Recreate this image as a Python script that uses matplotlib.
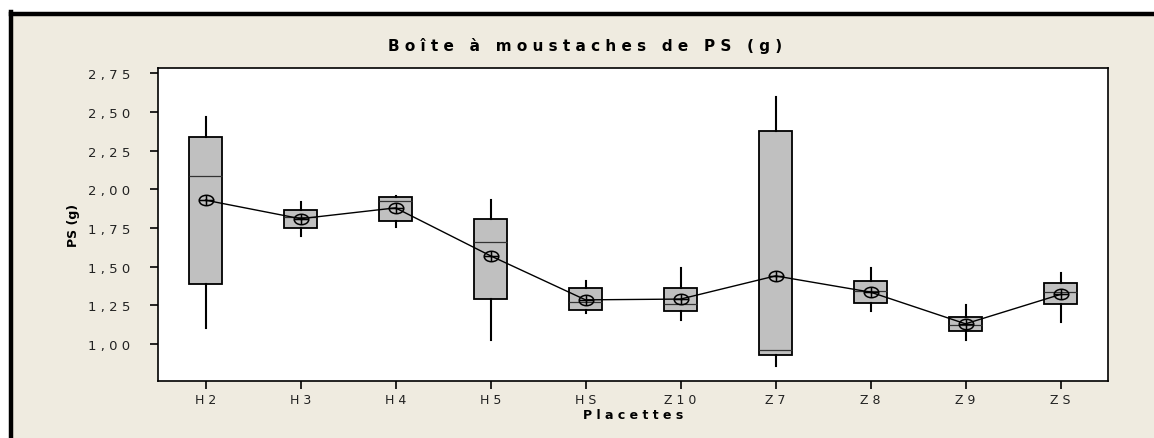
import matplotlib
matplotlib.use("Agg")
import matplotlib.pyplot as plt
from matplotlib.path import Path
from matplotlib.patches import Rectangle
from matplotlib.lines import Line2D
import numpy as np

plt.rcParams['font.family'] = ['DejaVu Sans']

# données
placettes = ['H 2', 'H 3', 'H 4', 'H 5', 'H S', 'Z 1 0', 'Z 7', 'Z 8', 'Z 9', 'Z S']
whis_haut = [2.47, 1.92, 1.955, 1.93, 1.41, 1.49, 2.595, 1.49, 1.25, 1.46]
q3 = [2.34, 1.865, 1.95, 1.81, 1.36, 1.36, 2.375, 1.41, 1.175, 1.395]
mediane = [2.085, 1.82, 1.925, 1.66, 1.27, 1.26, 0.96, 1.34, 1.125, 1.335]
moyenne = [1.93, 1.81, 1.88, 1.57, 1.285, 1.29, 1.44, 1.335, 1.13, 1.32]
q1 = [1.39, 1.75, 1.795, 1.29, 1.22, 1.215, 0.93, 1.265, 1.085, 1.26]
whis_bas = [1.10, 1.70, 1.755, 1.025, 1.20, 1.155, 0.86, 1.21, 1.025, 1.14]

yticks = [1.00, 1.25, 1.50, 1.75, 2.00, 2.25, 2.50, 2.75]
ytick_labels = ['1 , 0 0', '1 , 2 5', '1 , 5 0', '1 , 7 5', '2 , 0 0', '2 , 2 5', '2 , 5 0', '2 , 7 5']

fig = plt.figure(figsize=(11.54, 4.39), dpi=100, facecolor='white')

# cadre beige avec bord noir en haut et à gauche
fig.patches.append(Rectangle((13 / 1154, 0), 1, 1 - 17 / 439, transform=fig.transFigure,
                             facecolor='#EFEBE0', edgecolor='none', zorder=-10))
fig.lines.append(Line2D([11 / 1154, 1], [1 - 15 / 439, 1 - 15 / 439], transform=fig.transFigure,
                        color='black', linewidth=3.2, zorder=-5))
fig.lines.append(Line2D([11 / 1154, 11 / 1154], [0, 1 - 13 / 439], transform=fig.transFigure,
                        color='black', linewidth=3.2, zorder=-5))

ax = fig.add_axes([158 / 1154, 1 - 382 / 439, 950 / 1154, 313 / 439])
ax.set_facecolor('white')

x = np.arange(len(placettes))
stats = []
for i in range(len(placettes)):
    stats.append({'med': mediane[i], 'q1': q1[i], 'q3': q3[i],
                  'whislo': whis_bas[i], 'whishi': whis_haut[i], 'fliers': []})

ax.bxp(stats, positions=x, widths=0.35, patch_artist=True, showcaps=False,
       boxprops=dict(facecolor='#C0C0C0', edgecolor='black', linewidth=1.3),
       medianprops=dict(color='#333333', linewidth=0.9),
       whiskerprops=dict(color='black', linewidth=1.5))

# marqueur de moyenne : ellipse avec croix
ell = Path.unit_circle()
ell = Path(ell.vertices * [1.4, 1.0], ell.codes)
marq = Path.make_compound_path(ell, Path([[-1.4, 0], [1.4, 0]]), Path([[0, -1], [0, 1]]))

ax.plot(x, moyenne, color='black', linewidth=1.0, zorder=4)
ax.plot(x, moyenne, linestyle='none', marker=marq, markersize=10.5,
        markerfacecolor='none', markeredgecolor='black', markeredgewidth=1.1, zorder=5)

ax.set_xlim(-0.5, len(placettes) - 0.5)
ax.set_ylim(0.76, 2.785)
ax.set_xticks(x)
ax.set_xticklabels(placettes, fontsize=9, color='#222222')
ax.set_yticks(yticks)
ax.set_yticklabels(ytick_labels, fontsize=9.5, color='#222222')
ax.tick_params(axis='both', direction='out', length=6, width=1.2, right=False, top=False)
ax.tick_params(axis='y', pad=14)
ax.tick_params(axis='x', pad=3)
for s in ax.spines.values():
    s.set_linewidth(1.2)

ax.set_xlabel('P l a c e t t e s', fontsize=9, fontweight='bold', labelpad=1)
ax.set_ylabel('PS (g)', fontsize=9, fontweight='bold', labelpad=6)
fig.text(0.507, 1 - 46 / 439, 'B o î t e   à   m o u s t a c h e s   d e   P S   ( g )',
         ha='center', va='center', fontsize=11, fontweight='bold')

fig.savefig('out.png', dpi=100, facecolor=fig.get_facecolor())
